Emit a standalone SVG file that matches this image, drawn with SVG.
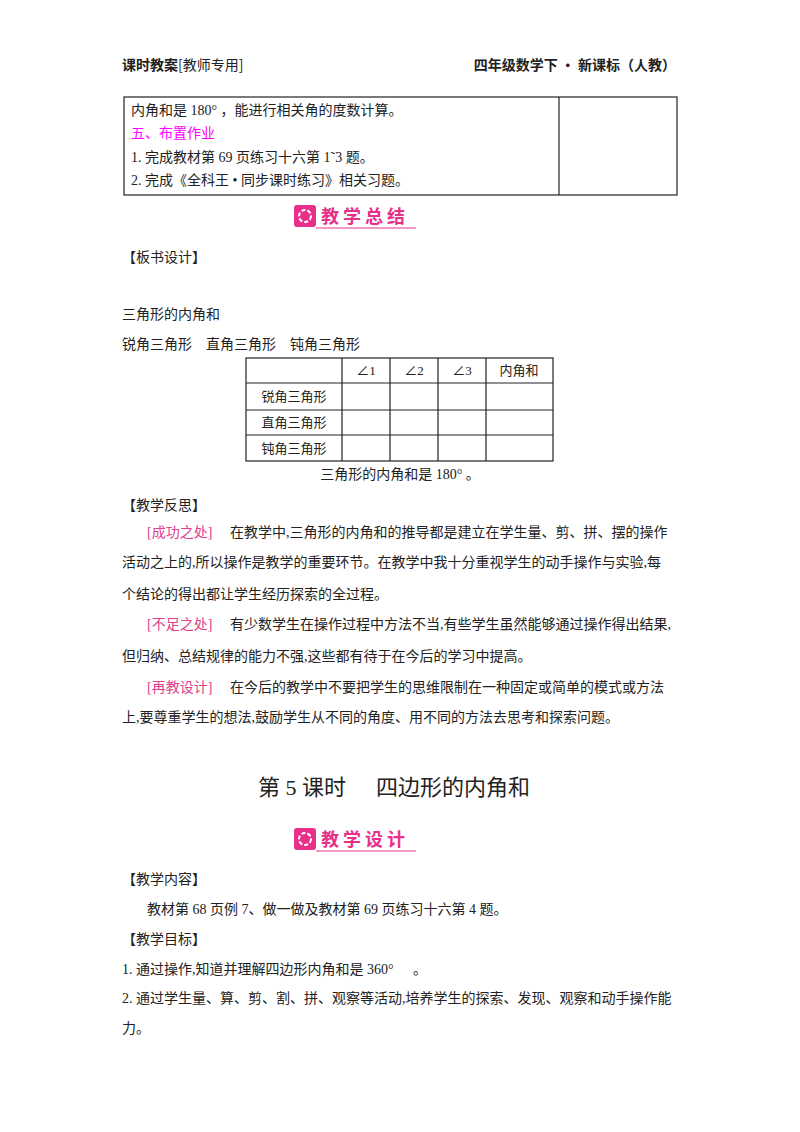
<svg xmlns="http://www.w3.org/2000/svg" width="800" height="1132" viewBox="0 0 800 1132">
<style>
text{font-family:"Liberation Serif","Noto Sans CJK SC",serif;font-size:14px;fill:#222}
.h{font-family:"Noto Sans CJK SC",sans-serif;font-size:14px;font-weight:bold}
.m{fill:#f0f}
.p{fill:#e0408a}
.b{font-family:"Noto Sans CJK SC",sans-serif;font-weight:bold;font-size:18px;fill:#e8308a;letter-spacing:4px}
.t{font-size:22px}
.s{font-size:13px}
.ln{stroke:#222;stroke-width:1.2;fill:none}
</style>
<rect width="800" height="1132" fill="#fff"/>
<text class="h" x="122" y="70">课时教案<tspan style="font-weight:normal">[教师专用]</tspan></text>
<text class="h" x="676" y="70" text-anchor="end">四年级数学下 · 新课标（人教）</text>
<g id="table1">
<rect class="ln" x="124" y="97" width="553" height="98"/>
<line class="ln" x1="559" y1="97" x2="559" y2="195"/>
<text x="131" y="115">内角和是 180° ，能进行相关角的度数计算。</text>
<text x="131" y="138" class="m">五、布置作业</text>
<text x="131" y="162">1. 完成教材第 69 页练习十六第 1˜3 题。</text>
<text x="131" y="185">2. 完成《全科王 • 同步课时练习》相关习题。</text>
</g>
<g id="banner1">
<rect x="294" y="205" width="22" height="22" rx="3" fill="#e8308a"/>
<circle cx="305" cy="216" r="6" fill="none" stroke="#fff" stroke-width="2" stroke-dasharray="4 2"/>
<text class="b" x="321" y="223">教学总结</text>
<line x1="316" y1="228" x2="416" y2="228" stroke="#e8308a" stroke-width="1"/>
</g>
<text x="122" y="262">【板书设计】</text>
<text x="122" y="319">三角形的内角和</text>
<text x="122" y="349">锐角三角形</text><text x="206" y="349">直角三角形</text><text x="290" y="349">钝角三角形</text>
<g id="table2" class="ln">
<rect x="246" y="358" width="307" height="103"/>
<line x1="246" y1="383" x2="553" y2="383"/>
<line x1="246" y1="410" x2="553" y2="410"/>
<line x1="246" y1="435" x2="553" y2="435"/>
<line x1="342" y1="358" x2="342" y2="461"/>
<line x1="390" y1="358" x2="390" y2="461"/>
<line x1="438" y1="358" x2="438" y2="461"/>
<line x1="486" y1="358" x2="486" y2="461"/>
</g>
<g>
<text class="s" x="366" y="375" text-anchor="middle">∠1</text>
<text class="s" x="414" y="375" text-anchor="middle">∠2</text>
<text class="s" x="462" y="375" text-anchor="middle">∠3</text>
<text class="s" x="519" y="375" text-anchor="middle">内角和</text>
<text class="s" x="294" y="401" text-anchor="middle">锐角三角形</text>
<text class="s" x="294" y="427" text-anchor="middle">直角三角形</text>
<text class="s" x="294" y="453" text-anchor="middle">钝角三角形</text>
</g>
<text x="400" y="479" text-anchor="middle">三角形的内角和是 180° 。</text>
<text x="122" y="510">【教学反思】</text>
<text x="147" y="537"><tspan class="p">[成功之处]</tspan><tspan x="230">在教学中,三角形的内角和的推导都是建立在学生量、剪、拼、摆的操作</tspan></text>
<text x="122" y="567">活动之上的,所以操作是教学的重要环节。在教学中我十分重视学生的动手操作与实验,每</text>
<text x="122" y="599">个结论的得出都让学生经历探索的全过程。</text>
<text x="147" y="629"><tspan class="p">[不足之处]</tspan><tspan x="230">有少数学生在操作过程中方法不当,有些学生虽然能够通过操作得出结果,</tspan></text>
<text x="122" y="661">但归纳、总结规律的能力不强,这些都有待于在今后的学习中提高。</text>
<text x="147" y="692"><tspan class="p">[再教设计]</tspan><tspan x="230">在今后的教学中不要把学生的思维限制在一种固定或简单的模式或方法</tspan></text>
<text x="122" y="722">上,要尊重学生的想法,鼓励学生从不同的角度、用不同的方法去思考和探索问题。</text>
<text class="t" x="258" y="795">第 5 课时</text><text class="t" x="376" y="795">四边形的内角和</text>
<g id="banner2">
<rect x="294" y="828" width="22" height="22" rx="3" fill="#e8308a"/>
<circle cx="305" cy="839" r="6" fill="none" stroke="#fff" stroke-width="2" stroke-dasharray="4 2"/>
<text class="b" x="321" y="846">教学设计</text>
<line x1="316" y1="851" x2="416" y2="851" stroke="#e8308a" stroke-width="1"/>
</g>
<text x="122" y="884">【教学内容】</text>
<text x="147" y="914">教材第 68 页例 7、做一做及教材第 69 页练习十六第 4 题。</text>
<text x="122" y="944">【教学目标】</text>
<text x="122" y="974">1. 通过操作,知道并理解四边形内角和是 360°<tspan x="413">。</tspan></text>
<text x="122" y="1003">2. 通过学生量、算、剪、割、拼、观察等活动,培养学生的探索、发现、观察和动手操作能</text>
<text x="122" y="1033">力。</text>
</svg>
